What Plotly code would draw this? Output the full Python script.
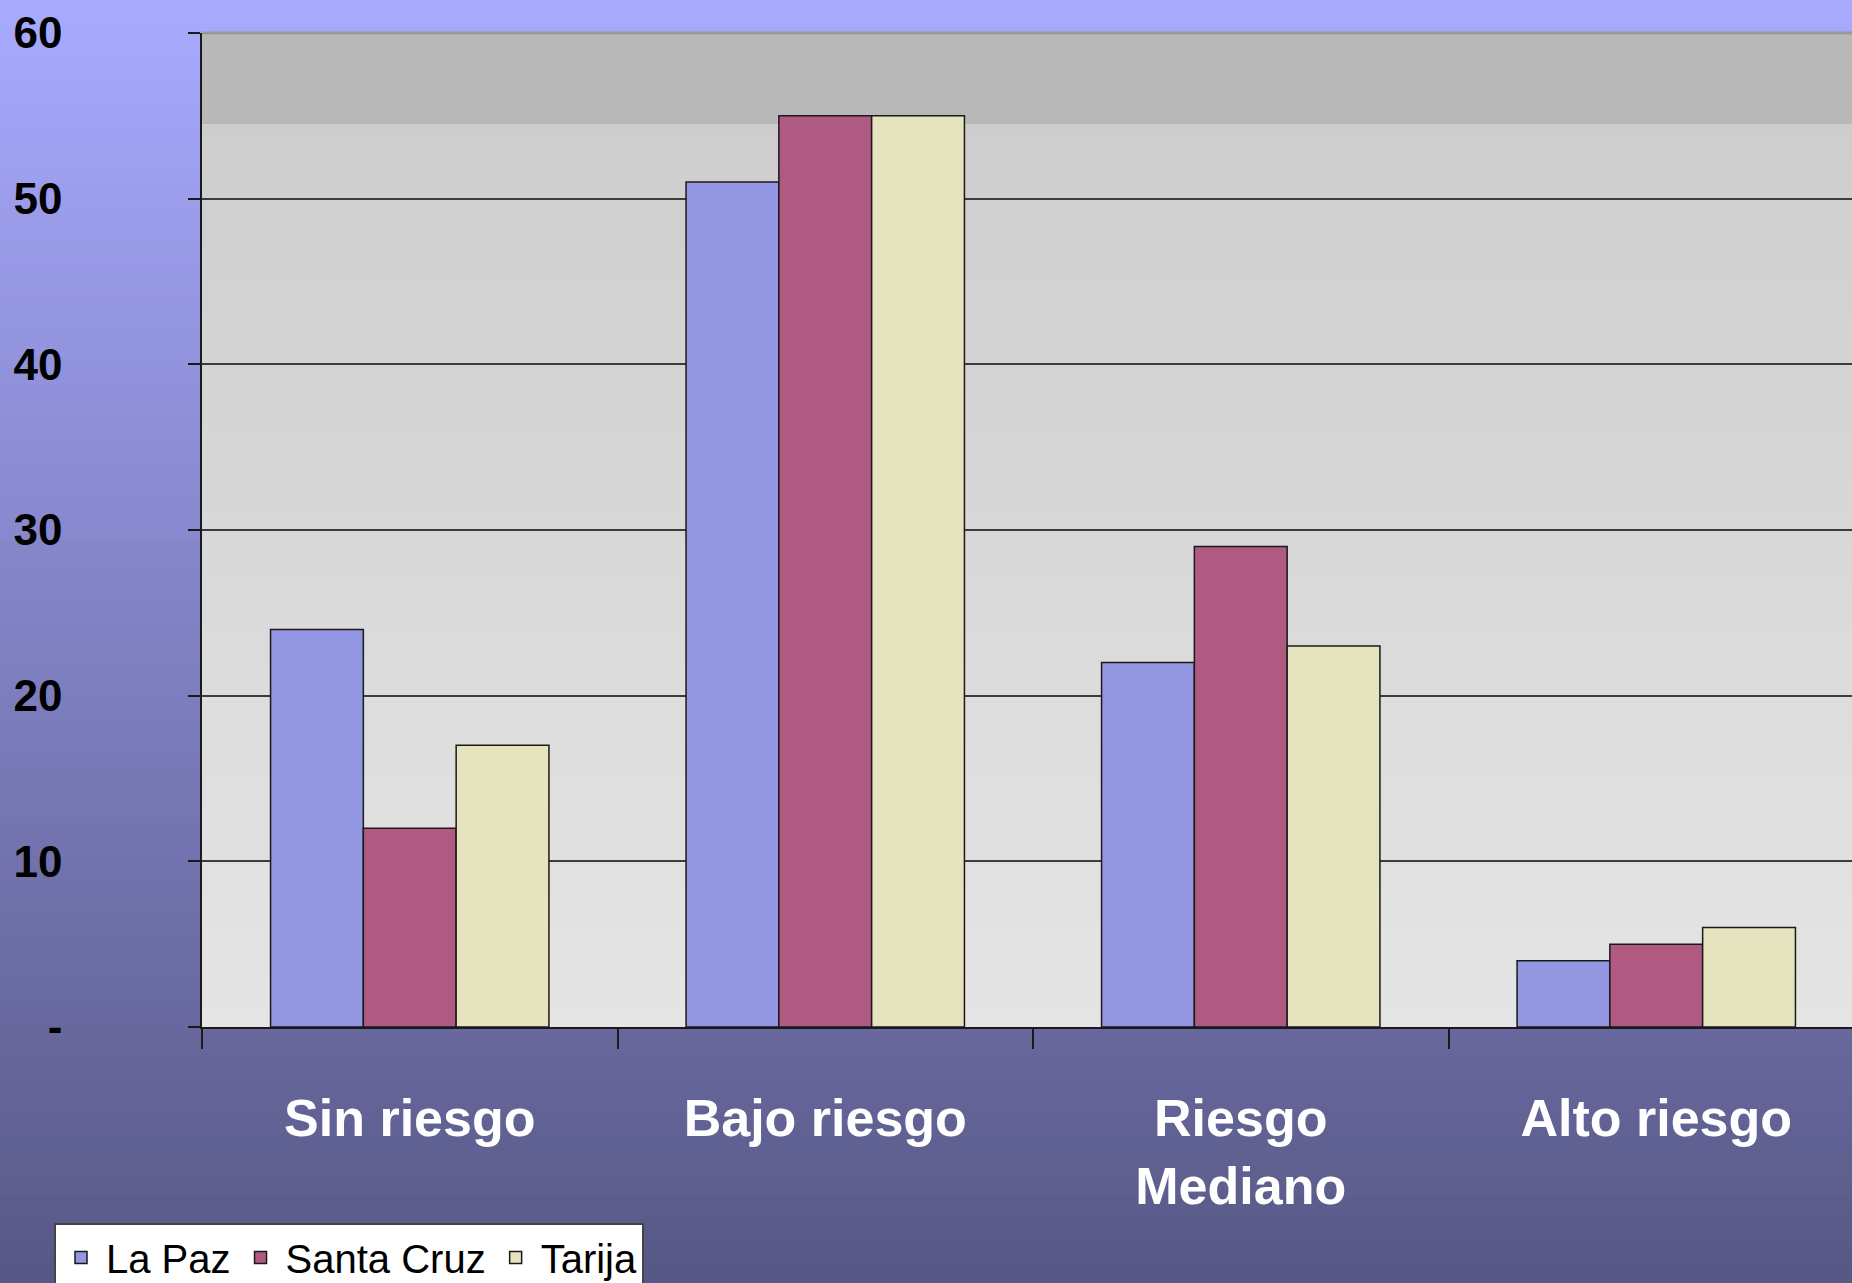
import plotly.graph_objects as go

# ---------------- data ----------------
categories = ["Sin riesgo", "Bajo riesgo", "Riesgo<br>Mediano", "Alto riesgo"]
series_names = ["La Paz", "Santa Cruz", "Tarija"]
la_paz = [24, 51, 22, 4]
santa_cruz = [12, 55, 29, 5]
tarija = [17, 55, 23, 6]
y_tick_values = [0, 10, 20, 30, 40, 50, 60]
y_tick_labels = ["-", "10", "20", "30", "40", "50", "60"]

# ---------------- style ----------------
W, H = 1852, 1283
ML, MR, MT, MB = 202, 0, 33, 256
bar_colors = ["#9396e0", "#b05a82", "#e6e3bf"]
FONT = "Liberation Sans, Arial, sans-serif"


def hex2rgb(h):
    h = h.lstrip("#")
    return tuple(int(h[i:i + 2], 16) for i in (0, 2, 4))


def lerp(c1, c2, t):
    a, b = hex2rgb(c1), hex2rgb(c2)
    return "rgb(%d,%d,%d)" % tuple(round(a[i] + (b[i] - a[i]) * t) for i in range(3))


fig = go.Figure()
for name, vals, col in zip(series_names, [la_paz, santa_cruz, tarija], bar_colors):
    fig.add_trace(go.Bar(
        x=categories, y=vals, name=name,
        marker=dict(color=col, line=dict(color="#1a1a1a", width=1.5)),
    ))

plot_w = W - ML - MR
plot_h = H - MT - MB
y_top = 1 + MT / plot_h
y_bot = -MB / plot_h
x_left = -ML / plot_w

shapes = []
# page background gradient
n = 90
for i in range(n):
    t0, t1 = i / n, (i + 1) / n
    ya = y_top - (y_top - y_bot) * t0
    yb = y_top - (y_top - y_bot) * t1
    shapes.append(dict(type="rect", xref="paper", yref="paper",
                       x0=x_left - 0.02, x1=1.02, y0=yb - 0.004, y1=ya + 0.002,
                       fillcolor=lerp("#a8aaff", "#585886", (t0 + t1) / 2),
                       line=dict(width=0), layer="below"))
# plot area gradient
m = 60
for i in range(m):
    t0, t1 = i / m, (i + 1) / m
    shapes.append(dict(type="rect", xref="paper", yref="paper",
                       x0=0, x1=1, y0=1 - t1 - 0.001, y1=1 - t0 + 0.001,
                       fillcolor=lerp("#cbcbcb", "#e5e5e5", (t0 + t1) / 2),
                       line=dict(width=0), layer="below"))
# darker top band
shapes.append(dict(type="rect", xref="paper", yref="y", x0=0, x1=1, y0=54.5, y1=60,
                   fillcolor="#b8b8b8", line=dict(width=0), layer="below"))
# lighter top border of plot area
shapes.append(dict(type="line", xref="paper", yref="paper", x0=0, x1=1, y0=1, y1=1,
                   line=dict(color="#999999", width=3), layer="above"))

fig.update_layout(
    width=W, height=H,
    margin=dict(l=ML, r=MR, t=MT, b=MB, pad=0, autoexpand=False),
    paper_bgcolor="#5c5c8c",
    plot_bgcolor="rgba(0,0,0,0)",
    barmode="group", bargap=0.33, bargroupgap=0,
    shapes=shapes,
    showlegend=True,
    legend=dict(
        orientation="h", x=(54 - ML) / plot_w, xanchor="left",
        y=(H - MB - 1223) / plot_h, yanchor="top",
        bgcolor="white", bordercolor="#444444", borderwidth=2,
        font=dict(family=FONT, size=40, color="black"),
        itemwidth=40,
    ),
    xaxis=dict(
        range=[-0.5, -0.5 + plot_w / 415.5],
        showgrid=False, zeroline=False,
        showline=True, linecolor="#1a1a1a", linewidth=1.5,
        ticks="outside", tickson="boundaries", ticklen=20,
        tickcolor="#1a1a1a", tickwidth=1.5,
        tickfont=dict(family=FONT, size=52, color="white", weight="bold"),
        ticklabelstandoff=45,
    ),
    yaxis=dict(
        range=[0, 60],
        tickmode="array", tickvals=y_tick_values, ticktext=y_tick_labels,
        showgrid=True, gridcolor="#3c3c3c", gridwidth=1.5,
        zeroline=False,
        showline=True, linecolor="#1a1a1a", linewidth=1.5,
        ticks="outside", ticklen=12, tickcolor="#1a1a1a", tickwidth=1.5,
        tickfont=dict(family=FONT, size=44, color="black", weight="bold"),
        ticklabelstandoff=117,
    ),
)

fig.write_html("out.html", config={"displayModeBar": False},
               post_script="document.body.style.margin='0';")
